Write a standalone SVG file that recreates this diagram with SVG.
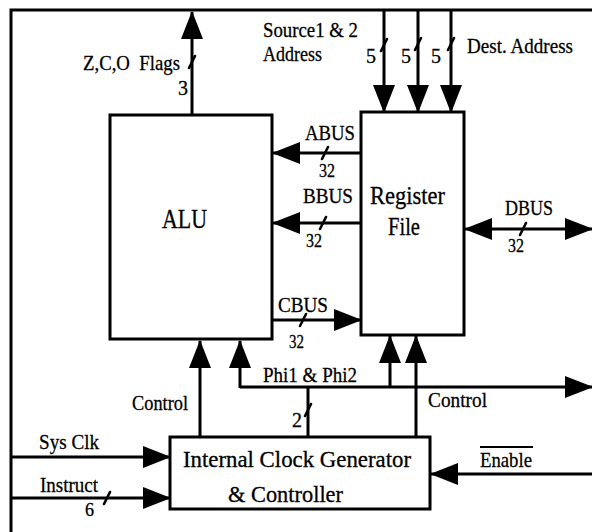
<svg xmlns="http://www.w3.org/2000/svg" width="592" height="532" viewBox="0 0 592 532" font-family="'Liberation Serif', 'Times New Roman', serif">
<defs>
<marker id="ah" viewBox="0 0 28 22" refX="27" refY="11" markerWidth="28" markerHeight="22" orient="auto-start-reverse" markerUnits="userSpaceOnUse">
<path d="M0,0 L28,11 L0,22 z" fill="#000"/>
</marker>
<style>
.w{fill:none;stroke:#000;stroke-width:3}
.a{marker-end:url(#ah)}
.s{stroke:#000;stroke-width:2.6;stroke-linecap:round}
.box{fill:#fff;stroke:#000;stroke-width:3}
text{fill:#000;stroke:#000;stroke-width:0.3}
.l{font-size:22px}
.d{font-size:20px}
.n{font-size:18px}
.b{font-size:23px}
</style>
</defs>
<rect width="592" height="532" fill="#fff"/>
<path class="w" d="M11,532 V10 H592"/>
<g id="connectors">
<path class="w a" d="M192,115 V12"/>
<path class="w a" d="M384,10 V112"/>
<path class="w a" d="M418,10 V112"/>
<path class="w a" d="M451,10 V112"/>
<path class="w a" d="M361,153 H273"/>
<path class="w a" d="M361,223 H273"/>
<path class="w a" d="M272,320 H361"/>
<path class="w a" d="M465,229 H592" style="marker-start:url(#ah)"/>
<path class="w a" d="M200,437 V341"/>
<path class="w a" d="M240,387 H592"/>
<path class="w a" d="M240,388 V341"/>
<path class="w a" d="M390,388 V336"/>
<path class="w" d="M308,437 V386"/>
<path class="w a" d="M416,437 V336"/>
<path class="w a" d="M11,457 H170"/>
<path class="w a" d="M11,498 H170"/>
<path class="w a" d="M592,474 H431"/>
<g>
<line class="s" x1="189" y1="68" x2="195" y2="56"/>
<line class="s" x1="381" y1="51" x2="387" y2="39"/>
<line class="s" x1="415" y1="50" x2="421" y2="38"/>
<line class="s" x1="448" y1="50" x2="454" y2="38"/>
<line class="s" x1="322" y1="159" x2="328" y2="147"/>
<line class="s" x1="320" y1="229" x2="326" y2="217"/>
<line class="s" x1="300" y1="326" x2="306" y2="314"/>
<line class="s" x1="520" y1="235" x2="526" y2="223"/>
<line class="s" x1="305" y1="416" x2="311" y2="404"/>
<line class="s" x1="104" y1="504" x2="110" y2="492"/>
</g>
<text class="l" x="83" y="70" xml:space="preserve" textLength="97" lengthAdjust="spacingAndGlyphs">Z,C,O  Flags</text>
<text class="d" x="178" y="95">3</text>
<text class="l" x="263" y="37" textLength="95" lengthAdjust="spacingAndGlyphs">Source1 &amp; 2</text>
<text class="l" x="263" y="61" textLength="59" lengthAdjust="spacingAndGlyphs">Address</text>
<text class="d" x="366" y="63">5</text>
<text class="d" x="401" y="63">5</text>
<text class="d" x="431" y="63">5</text>
<text class="l" x="467" y="53" textLength="106" lengthAdjust="spacingAndGlyphs">Dest. Address</text>
<text class="l" x="305" y="140" textLength="50" lengthAdjust="spacingAndGlyphs">ABUS</text>
<text class="n" x="319" y="177" textLength="16" lengthAdjust="spacingAndGlyphs">32</text>
<text class="l" x="303" y="203" textLength="50" lengthAdjust="spacingAndGlyphs">BBUS</text>
<text class="n" x="306" y="247" textLength="16" lengthAdjust="spacingAndGlyphs">32</text>
<text class="l" x="505" y="215" textLength="48" lengthAdjust="spacingAndGlyphs">DBUS</text>
<text class="n" x="508" y="252" textLength="16" lengthAdjust="spacingAndGlyphs">32</text>
<text class="l" x="278" y="312" textLength="50" lengthAdjust="spacingAndGlyphs">CBUS</text>
<text class="n" x="289" y="348" textLength="15" lengthAdjust="spacingAndGlyphs">32</text>
<text class="l" x="263" y="382" textLength="94" lengthAdjust="spacingAndGlyphs">Phi1 &amp; Phi2</text>
<text class="l" x="132" y="410" textLength="56" lengthAdjust="spacingAndGlyphs">Control</text>
<text class="d" x="292" y="427">2</text>
<text class="l" x="428" y="407" textLength="59" lengthAdjust="spacingAndGlyphs">Control</text>
<text class="l" x="39" y="449" textLength="60" lengthAdjust="spacingAndGlyphs">Sys Clk</text>
<text class="l" x="40" y="492" textLength="58" lengthAdjust="spacingAndGlyphs">Instruct</text>
<text class="n" x="85" y="516">6</text>
<text class="l" x="480" y="467" textLength="52" lengthAdjust="spacingAndGlyphs">Enable</text>
<line x1="480" y1="447" x2="533" y2="447" stroke="#000" stroke-width="2"/>
</g>
<g id="alu">
<rect class="box" x="110" y="115" width="162" height="224"/>
<text x="162" y="228" font-size="28" textLength="45" lengthAdjust="spacingAndGlyphs">ALU</text>
</g>
<g id="register-file">
<rect class="box" x="361" y="112" width="103" height="223"/>
<text x="370" y="204" font-size="25" textLength="75" lengthAdjust="spacingAndGlyphs">Register</text>
<text x="388" y="235" font-size="25" textLength="32" lengthAdjust="spacingAndGlyphs">File</text>
</g>
<g id="controller">
<rect class="box" x="170" y="437" width="260" height="72"/>
<text class="b" x="183" y="467" textLength="228" lengthAdjust="spacingAndGlyphs">Internal Clock Generator</text>
<text class="b" x="228" y="502" textLength="115" lengthAdjust="spacingAndGlyphs">&amp; Controller</text>
</g>
</svg>
